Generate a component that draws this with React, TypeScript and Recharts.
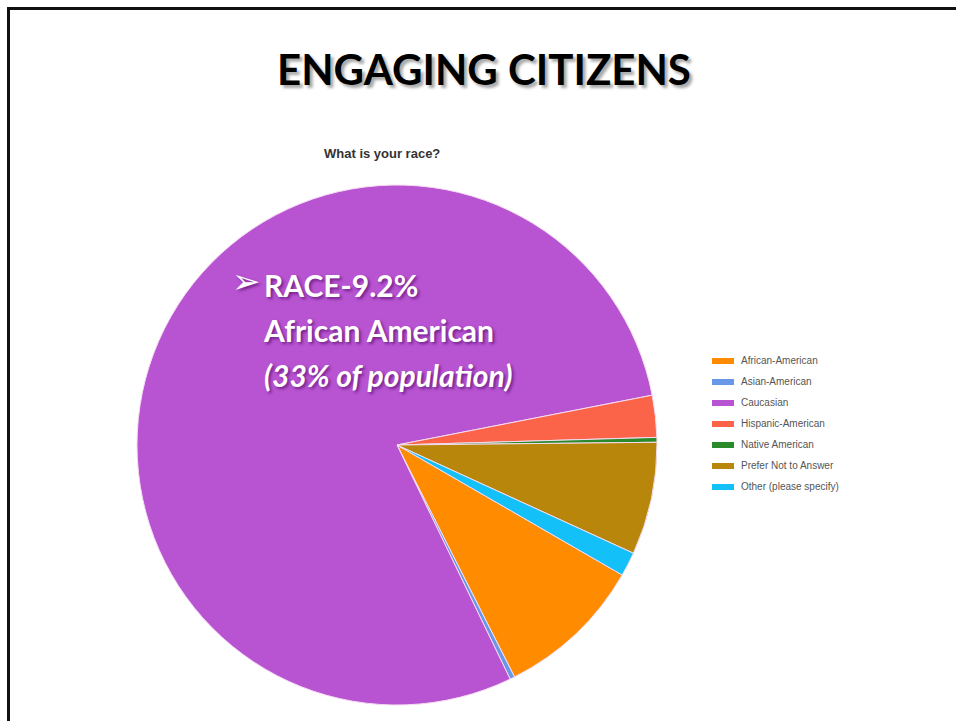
import React from "react";
import { PieChart, Pie, Cell, Legend } from "recharts";

const categories = [
  "African-American",
  "Asian-American",
  "Caucasian",
  "Hispanic-American",
  "Native American",
  "Prefer Not to Answer",
  "Other (please specify)",
];
const shares = [9.2, 0.3, 79.1, 2.6, 0.3, 7.0, 1.5];
const colors = ["#ff8c00", "#6a98e8", "#b853d2", "#fb6448", "#2a8a2a", "#b8860b", "#13c0f8"];

const data = categories.map((name, i) => ({ name, value: shares[i] }));

const W = 956;
const H = 721;

// legend keeps the survey's order (recharts would sort it)
function LegendList() {
  return (
    <div style={{ fontFamily: "'Liberation Sans', Arial, sans-serif", fontSize: 10, color: "#555" }}>
      {categories.map((c, i) => (
        <div key={c} style={{ display: "flex", alignItems: "center", height: 21 }}>
          <span style={{ width: 22, height: 6, background: colors[i], marginRight: 7 }} />
          <span>{c}</span>
        </div>
      ))}
    </div>
  );
}

export default function App() {
  const overlay: React.CSSProperties = {
    position: "absolute",
    left: 264,
    color: "#fff",
    fontFamily: "Lato, 'Open Sans', sans-serif",
    fontWeight: 700,
    fontSize: 30,
    lineHeight: "30px",
    whiteSpace: "nowrap",
    textShadow: "2px 2px 3px rgba(70,0,90,0.6)",
  };
  return (
    <div style={{ position: "absolute", left: 0, top: 0, width: W, height: H, background: "#fff", overflow: "hidden" }}>
      {/* slide frame, only top and left edges show */}
      <div style={{ position: "absolute", left: 7, top: 7, width: W, height: H, borderTop: "3px solid #111", borderLeft: "3px solid #111" }} />
      <div
        style={{
          position: "absolute",
          left: 0,
          width: 968,
          top: 44,
          textAlign: "center",
          fontFamily: "Lato, sans-serif",
          fontWeight: 700,
          fontSize: 42,
          lineHeight: "50px",
          color: "#000",
          textShadow: "3px 3px 3px rgba(0,0,0,0.35)",
        }}
      >
        ENGAGING CITIZENS
      </div>
      <div
        style={{
          position: "absolute",
          left: 324,
          top: 146,
          fontFamily: "'Liberation Sans', Arial, sans-serif",
          fontWeight: 700,
          fontSize: 13,
          color: "#333",
        }}
      >
        What is your race?
      </div>
      <div style={{ position: "absolute", left: 0, top: 0 }}>
        <PieChart width={W} height={H} margin={{ top: 0, right: 0, bottom: 0, left: 0 }}>
          <Pie
            data={data}
            dataKey="value"
            nameKey="name"
            cx={397}
            cy={445}
            outerRadius={260}
            startAngle={-30}
            endAngle={-390}
            stroke="#f4dcf2"
            strokeWidth={1}
            isAnimationActive={false}
          >
            {data.map((d, i) => (
              <Cell key={d.name} fill={colors[i]} />
            ))}
          </Pie>
          <Legend
            layout="vertical"
            content={<LegendList />}
            wrapperStyle={{ position: "absolute", left: 712, top: 350, width: 160 }}
          />
        </PieChart>
      </div>
      <div style={{ ...overlay, left: 232, top: 266, fontFamily: "'DejaVu Sans', sans-serif", fontSize: 34, fontWeight: 400 }}>➢</div>
      <div style={{ ...overlay, top: 270 }}>RACE-9.2%</div>
      <div style={{ ...overlay, top: 315 }}>African American</div>
      <div style={{ ...overlay, top: 360, fontStyle: "italic" }}>(33% of population)</div>
    </div>
  );
}
